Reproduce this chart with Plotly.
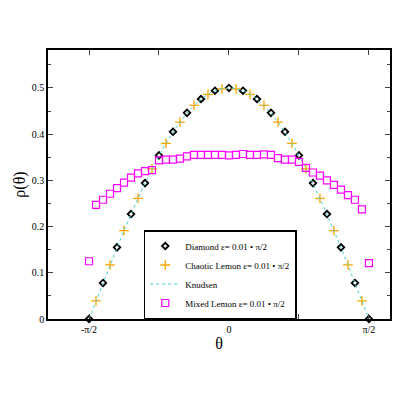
import math
import plotly.graph_objects as go

H = math.pi / 2

# Diamond: theta = -pi/2 + k*pi/20
diamond_x = [-H + k * math.pi / 20 for k in range(21)]
diamond_y = [0.0, 0.078, 0.155, 0.227, 0.294, 0.354, 0.405, 0.446, 0.476, 0.494, 0.5,
             0.494, 0.476, 0.446, 0.405, 0.354, 0.294, 0.227, 0.155, 0.078, 0.0]

# Chaotic lemon: offsets between diamonds
lemon_x = [-H + (k + 0.5) * math.pi / 20 for k in range(20)]
lemon_y = [0.039, 0.117, 0.191, 0.261, 0.325, 0.380, 0.426, 0.462, 0.486, 0.498,
           0.498, 0.486, 0.462, 0.426, 0.380, 0.325, 0.261, 0.191, 0.117, 0.039]

# Knudsen curve
knud_x = [-H + k * math.pi / 100 for k in range(101)]
knud_y = [0.5 * math.cos(t) for t in knud_x]

# Mixed lemon: 41 points
mixed_x = [-H + k * math.pi / 40 for k in range(41)]
mixed_y = [0.125, 0.247, 0.258, 0.271, 0.283, 0.295, 0.306, 0.315, 0.320, 0.322,
           0.343, 0.345, 0.345, 0.347, 0.352, 0.355, 0.355, 0.355, 0.355, 0.355,
           0.354, 0.355, 0.357, 0.355, 0.355, 0.356, 0.355, 0.348, 0.345, 0.345,
           0.340, 0.327, 0.317, 0.310, 0.300, 0.290, 0.280, 0.268, 0.258, 0.237, 0.121]

fig = go.Figure()
fig.add_trace(go.Scatter(x=diamond_x, y=diamond_y, mode="markers",
                         name="Diamond ε= 0.01 • π/2",
                         marker=dict(symbol="diamond-open", size=5, color="black",
                                     line=dict(width=1.8)), cliponaxis=False))
fig.add_trace(go.Scatter(x=lemon_x, y=lemon_y, mode="markers",
                         name="Chaotic Lemon ε= 0.01 • π/2",
                         marker=dict(symbol="cross-thin-open", size=7, color="orange",
                                     line=dict(width=1.3, color="orange")), cliponaxis=False))
fig.add_trace(go.Scatter(x=knud_x, y=knud_y, mode="lines", name="Knudsen",
                         line=dict(color="#40d0d0", width=1, dash="dot")))
fig.add_trace(go.Scatter(x=mixed_x, y=mixed_y, mode="markers",
                         name="Mixed Lemon ε= 0.01 • π/2",
                         marker=dict(symbol="square-open", size=7, color="#ff00ff",
                                     line=dict(width=1.2)), cliponaxis=False))

axis_common = dict(showline=True, linecolor="black", linewidth=1.5, mirror="ticks",
                   ticks="inside", ticklen=5, showgrid=False, zeroline=False,
                   tickfont=dict(size=10), automargin=False)
fig.update_xaxes(range=[-2.031, 1.807], tickvals=[-H, -H / 2, 0, H / 2, H],
                 ticktext=["-π/2", "", "0", "", "π/2"],
                 title=dict(text="θ", font=dict(size=16), standoff=4), **axis_common)
fig.update_yaxes(range=[0, 0.582], tickvals=[0, 0.1, 0.2, 0.3, 0.4, 0.5],
                 ticktext=["0", "0.1", "0.2", "0.3", "0.4", "0.5"],
                 minor=dict(dtick=0.05, ticks="inside", ticklen=3),
                 title=dict(text="ρ(θ)", font=dict(size=16), standoff=2), **axis_common)
fig.update_layout(width=400, height=400, margin=dict(l=40, r=18, t=42, b=89),
                  plot_bgcolor="white", paper_bgcolor="white",
                  font=dict(family="Liberation Serif", color="black"),
                  legend=dict(x=0.28, y=0, xanchor="left", yanchor="bottom",
                              bordercolor="black", borderwidth=1.5, bgcolor="white",
                              font=dict(size=9), tracegroupgap=0, itemwidth=30))
fig.write_html("out.html")
